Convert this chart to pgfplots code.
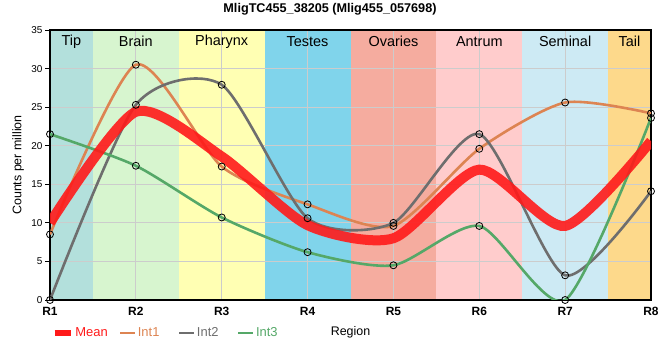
\documentclass[border=0pt]{standalone}
\usepackage{fontspec}
\setmainfont{Liberation Sans}
\usepackage{pgfplots}
\pgfplotsset{compat=1.18}
\definecolor{cTip}{HTML}{B3E0DC}
\definecolor{cBrain}{HTML}{D7F5CF}
\definecolor{cPhar}{HTML}{FFFFB3}
\definecolor{cTest}{HTML}{80D4EB}
\definecolor{cOva}{HTML}{F5AC9F}
\definecolor{cAntr}{HTML}{FFCCCC}
\definecolor{cSem}{HTML}{CDEAF4}
\definecolor{cTail}{HTML}{FDD98B}
\definecolor{cMean}{HTML}{FF1A1A}
\definecolor{cI1}{HTML}{DD8452}
\definecolor{cI2}{HTML}{6E6E6E}
\definecolor{cI3}{HTML}{55A868}
\begin{document}
\begin{tikzpicture}
\begin{axis}[
  at={(0,0)}, anchor=south west, scale only axis,
  width=601bp, height=270bp,
  xmin=0, xmax=7, ymin=0, ymax=35,
  xtick={0,...,7}, xticklabels={R1,R2,R3,R4,R5,R6,R7,R8},
  ytick={0,5,...,35},
  set layers,
  grid=major, grid style={draw=black!20, line width=0.8bp},
  axis line style={line width=1.5bp},
  tick align=outside, tick pos=left,
  major tick length=5bp,
  every tick/.style={black, line width=0.8bp},
  xtick style={draw=none},
  /pgf/number format/assume math mode=true,
  yticklabel style={font=\fontsize{10}{12}\selectfont, xshift=1bp},
  xticklabel style={font=\bfseries\fontsize{12}{14}\selectfont, yshift=1bp},
  xlabel={Region},
  xlabel style={at={(axis description cs:0.5,-0.12)}, anchor=center, font=\fontsize{12.5}{14}\selectfont},
  ylabel={Counts per million},
  ylabel style={at={(axis description cs:-0.053,0.5)}, anchor=center, font=\fontsize{12.5}{14}\selectfont},
  legend columns=-1,
  legend style={draw=none, fill=none, at={(axis description cs:-0.003,-0.122)}, anchor=west,
    font=\fontsize{13}{15}\selectfont,
    /tikz/every even column/.append style={column sep=17bp},
    nodes={inner sep=1.5bp}},
  legend cell align=left,
  mark options={solid, draw=black, fill=none, line width=0.8bp},
]
\begin{pgfonlayer}{axis background}
\fill[cTip]   (axis cs:0,0)   rectangle (axis cs:0.5,35);
\fill[cBrain] (axis cs:0.5,0) rectangle (axis cs:1.5,35);
\fill[cPhar]  (axis cs:1.5,0) rectangle (axis cs:2.5,35);
\fill[cTest]  (axis cs:2.5,0) rectangle (axis cs:3.5,35);
\fill[cOva]   (axis cs:3.5,0) rectangle (axis cs:4.5,35);
\fill[cAntr]  (axis cs:4.5,0) rectangle (axis cs:5.5,35);
\fill[cSem]   (axis cs:5.5,0) rectangle (axis cs:6.5,35);
\fill[cTail]  (axis cs:6.5,0) rectangle (axis cs:7,35);
\end{pgfonlayer}
\begin{scope}[every node/.style={font=\fontsize{14.5}{16}\selectfont, anchor=center}]
\node at (axis cs:0.25,33.5) {Tip};
\node at (axis cs:1,33.5) {Brain};
\node at (axis cs:2,33.5) {Pharynx};
\node at (axis cs:3,33.5) {Testes};
\node at (axis cs:4,33.5) {Ovaries};
\node at (axis cs:5,33.5) {Antrum};
\node at (axis cs:6,33.5) {Seminal};
\node at (axis cs:6.75,33.5) {Tail};
\end{scope}
\addlegendimage{cMean, line width=6.5bp, legend image code/.code={\draw[cMean, line width=6.5bp] (0bp,0bp) -- (16bp,0bp);}}
\addlegendentry{\makebox[25bp][l]{\textcolor{cMean}{Mean}}}
\addlegendimage{cI1, line width=2.5bp, legend image code/.code={\draw[cI1, line width=2.5bp] (0bp,0bp) -- (15bp,0bp);}}
\addlegendentry{\textcolor{cI1}{Int1}}
\addlegendimage{cI2, line width=2.5bp, legend image code/.code={\draw[cI2, line width=2.5bp] (0bp,0bp) -- (15bp,0bp);}}
\addlegendentry{\textcolor{cI2}{Int2}}
\addlegendimage{cI3, line width=2.5bp, legend image code/.code={\draw[cI3, line width=2.5bp] (0bp,0bp) -- (15bp,0bp);}}
\addlegendentry{\textcolor{cI3}{Int3}}
\addplot[cI1, line width=2.6bp, smooth, tension=0.42, mark=o, mark size=3.5bp, forget plot] coordinates {
(0,8.5) (1,30.5) (2,17.3) (3,12.4) (4,9.6) (5,19.6) (6,25.6) (7,24.2)};
\addplot[cI2, line width=2.6bp, smooth, tension=0.42, mark=o, mark size=3.5bp, forget plot] coordinates {
(0,0) (1,25.3) (2,27.9) (3,10.6) (4,10.0) (5,21.5) (6,3.2) (7,14.1)};
\addplot[cI3, line width=2.6bp, smooth, tension=0.42, mark=o, mark size=3.5bp, forget plot] coordinates {
(0,21.5) (1,17.4) (2,10.7) (3,6.2) (4,4.5) (5,9.6) (6,0) (7,23.6)};
\addplot[cMean, opacity=0.9, line width=10bp, smooth, tension=0.42, forget plot] coordinates {
(0,10.0) (1,24.4) (2,18.6) (3,9.7) (4,8.0) (5,16.9) (6,9.6) (7,20.6)};
\end{axis}
\node[font=\bfseries\fontsize{12.7}{15}\selectfont] at (280bp,291bp) {MligTC455\_38205 (Mlig455\_057698)};
\pgfresetboundingbox
\path[use as bounding box] (-50bp,-60bp) rectangle (610bp,300bp);
\end{tikzpicture}
\end{document}
